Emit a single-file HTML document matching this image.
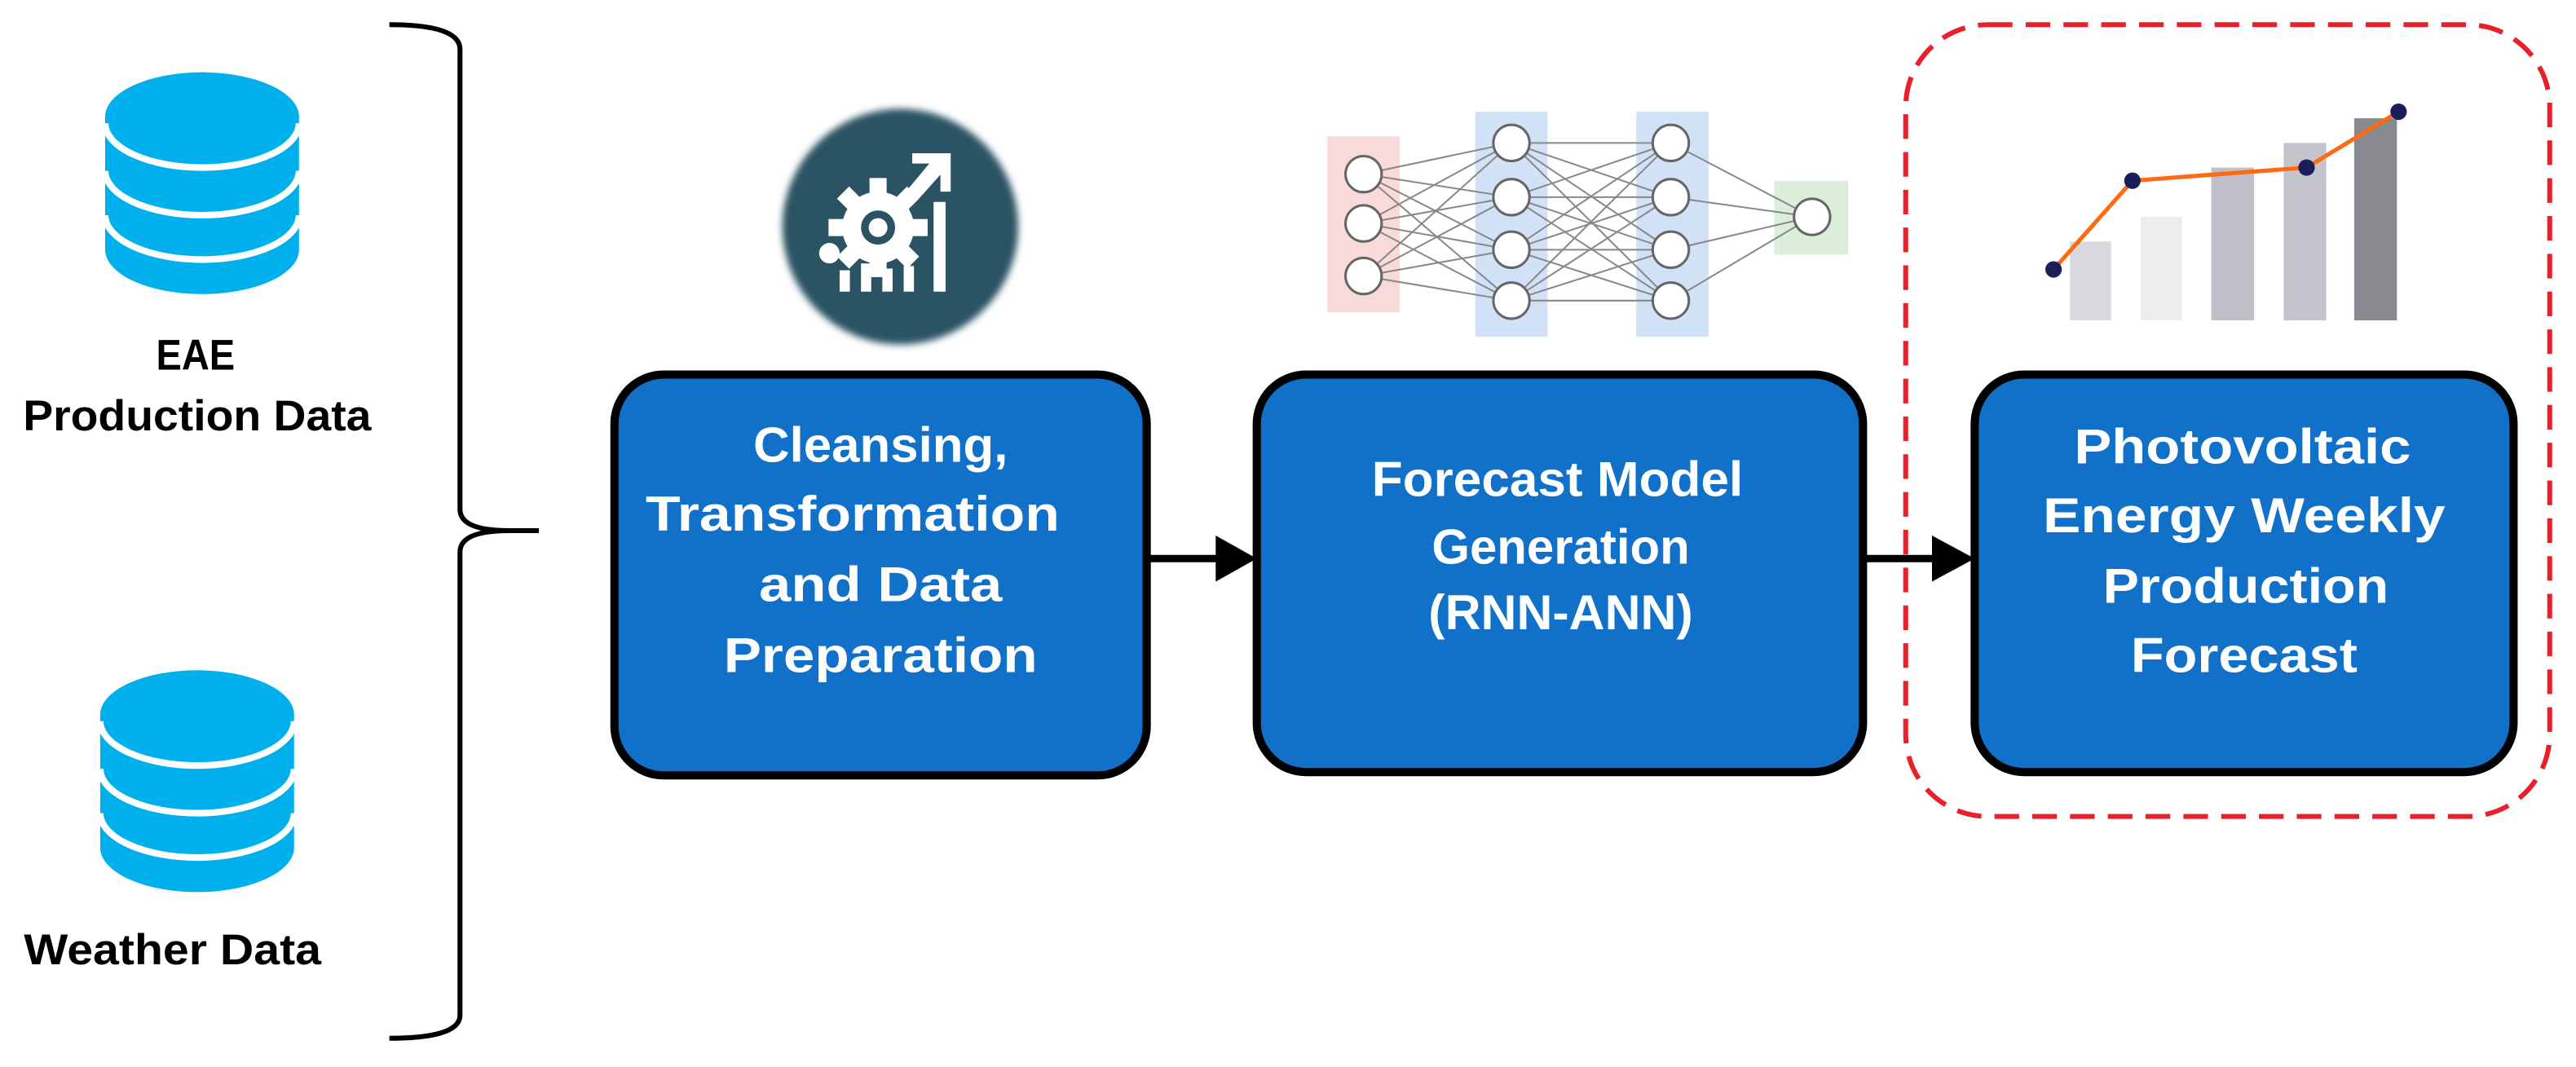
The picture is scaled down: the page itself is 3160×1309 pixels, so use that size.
<!DOCTYPE html>
<html><head><meta charset="utf-8"><style>html,body{margin:0;padding:0;background:#fff}svg{display:block}</style></head>
<body>
<svg width="3160" height="1309" viewBox="0 0 1568 649.5" preserveAspectRatio="none" xmlns="http://www.w3.org/2000/svg" font-family="Liberation Sans, sans-serif" font-weight="bold">
<defs>
<filter id="bl"><feGaussianBlur stdDeviation="4"/></filter>
<g id="db">
<path d="M-59,0 L-59,81 A59,27 0 0 0 59,81 L59,0 Z" fill="#00b0ec"/>
<ellipse cx="0" cy="0" rx="59" ry="27" fill="#00b0ec"/>
<path d="M-59,4 A59,27 0 0 0 59,4" fill="none" stroke="#fff" stroke-width="4"/>
<path d="M-59,33 A59,27 0 0 0 59,33" fill="none" stroke="#fff" stroke-width="4"/>
<path d="M-59,60 A59,27 0 0 0 59,60" fill="none" stroke="#fff" stroke-width="4"/>
</g>
</defs>
<use href="#db" x="123" y="71"/>
<use href="#db" x="120" y="435"/>
<g fill="#000" font-size="26" text-anchor="middle">
<text x="119" y="225" textLength="48" lengthAdjust="spacingAndGlyphs">EAE</text>
<text x="120" y="262" textLength="212" lengthAdjust="spacingAndGlyphs">Production Data</text>
<text x="105" y="587" textLength="181" lengthAdjust="spacingAndGlyphs">Weather Data</text>
</g>
<path d="M237,15 Q280,15 280,30 L280,310 Q280,323 310,323 L328,323 M310,323 Q280,323 280,336 L280,618 Q280,632 237,632" fill="none" stroke="#000" stroke-width="3"/>
<g transform="translate(548,138) scale(0.52) translate(-1031,-269)">
<circle cx="1031" cy="269" r="138" fill="#2c5364" filter="url(#bl)"/>
<g fill="#fff">
<path d="M1040,225 l25,-30 -20,0 0,-12 45,0 0,45 -12,0 0,-20 -25,28z"/>
<rect x="1070" y="240" width="14" height="105"/>
<rect x="960" y="320" width="12" height="25"/>
<rect x="985" y="312" width="12" height="33"/>
<rect x="1010" y="318" width="12" height="27"/>
<rect x="1035" y="315" width="12" height="30"/>
<circle cx="1005" cy="270" r="42"/>
<g transform="translate(1005,270)"><rect x="-10" y="-58" width="20" height="116"/><rect x="-58" y="-10" width="116" height="20"/><rect x="-10" y="-58" width="20" height="116" transform="rotate(45)"/><rect x="-10" y="-58" width="20" height="116" transform="rotate(-45)"/></g>
<circle cx="948" cy="300" r="12"/>
</g>
<circle cx="1005" cy="270" r="20" fill="#2c5364"/>
<circle cx="1005" cy="270" r="11" fill="#fff"/>
</g>
<g opacity="0.85">
<rect x="808" y="83" width="44" height="107" fill="#f8d3d3"/>
<rect x="898" y="68" width="44" height="137" fill="#c9dcf5"/>
<rect x="996" y="68" width="44" height="137" fill="#c9dcf5"/>
<rect x="1080" y="110" width="45" height="45" fill="#d3ebd3"/>
</g>
<g stroke="#888" stroke-width="1">
<path d="M830,106L920,87M830,106L920,120M830,106L920,152M830,106L920,183M830,136L920,87M830,136L920,120M830,136L920,152M830,136L920,183M830,168L920,87M830,168L920,120M830,168L920,152M830,168L920,183"/>
<path d="M920,87L1017,87M920,87L1017,120M920,87L1017,152M920,87L1017,183M920,120L1017,87M920,120L1017,120M920,120L1017,152M920,120L1017,183M920,152L1017,87M920,152L1017,120M920,152L1017,152M920,152L1017,183M920,183L1017,87M920,183L1017,120M920,183L1017,152M920,183L1017,183"/>
<path d="M1017,87L1103,132M1017,120L1103,132M1017,152L1103,132M1017,183L1103,132"/>
</g>
<g fill="#fff" stroke="#666" stroke-width="1.5">
<circle cx="830" cy="106" r="11"/><circle cx="830" cy="136" r="11"/><circle cx="830" cy="168" r="11"/>
<circle cx="920" cy="87" r="11"/><circle cx="920" cy="120" r="11"/><circle cx="920" cy="152" r="11"/><circle cx="920" cy="183" r="11"/>
<circle cx="1017" cy="87" r="11"/><circle cx="1017" cy="120" r="11"/><circle cx="1017" cy="152" r="11"/><circle cx="1017" cy="183" r="11"/>
<circle cx="1103" cy="132" r="11"/>
</g>
<rect x="1260" y="147" width="25" height="48" fill="#d8d9de"/>
<rect x="1303" y="132" width="25" height="63" fill="#ececee"/>
<rect x="1346" y="102" width="26" height="93" fill="#bfc0c8"/>
<rect x="1390" y="87" width="26" height="108" fill="#c4c5cc"/>
<rect x="1433" y="72" width="26" height="123" fill="#88898e"/>
<polyline points="1250,164 1298,110 1404,102 1460,68" fill="none" stroke="#ff6a10" stroke-width="2.5"/>
<g fill="#1a1f5a"><circle cx="1250" cy="164" r="5"/><circle cx="1298" cy="110" r="5"/><circle cx="1404" cy="102" r="5"/><circle cx="1460" cy="68" r="5"/></g>
<rect x="1160" y="15" width="392" height="482" rx="50" fill="none" stroke="#e8202a" stroke-width="3" stroke-dasharray="15,8"/>
<g fill="#1170c8" stroke="#000" stroke-width="5">
<rect x="374" y="228" width="324" height="244" rx="30"/>
<rect x="765" y="228" width="369" height="242" rx="30"/>
<rect x="1202" y="228" width="328" height="242" rx="30"/>
</g>
<line x1="698" y1="340" x2="745" y2="340" stroke="#000" stroke-width="4.5"/>
<path d="M740,326 L765,340 L740,354Z" fill="#000"/>
<line x1="1134" y1="340" x2="1180" y2="340" stroke="#000" stroke-width="4.5"/>
<path d="M1176,326 L1202,340 L1176,354Z" fill="#000"/>
<g fill="#fff" font-size="30" text-anchor="middle">
<text x="536" y="281" textLength="155" lengthAdjust="spacingAndGlyphs">Cleansing,</text>
<text x="519" y="323" textLength="252" lengthAdjust="spacingAndGlyphs">Transformation</text>
<text x="536" y="366" textLength="148" lengthAdjust="spacingAndGlyphs">and Data</text>
<text x="536" y="409" textLength="191" lengthAdjust="spacingAndGlyphs">Preparation</text>
<text x="948" y="302" textLength="226" lengthAdjust="spacingAndGlyphs">Forecast Model</text>
<text x="950" y="343" textLength="157" lengthAdjust="spacingAndGlyphs">Generation</text>
<text x="950" y="383" textLength="161" lengthAdjust="spacingAndGlyphs">(RNN-ANN)</text>
<text x="1365" y="282" textLength="205" lengthAdjust="spacingAndGlyphs">Photovoltaic</text>
<text x="1366" y="324" textLength="245" lengthAdjust="spacingAndGlyphs">Energy Weekly</text>
<text x="1367" y="367" textLength="174" lengthAdjust="spacingAndGlyphs">Production</text>
<text x="1366" y="409" textLength="138" lengthAdjust="spacingAndGlyphs">Forecast</text>
</g>
</svg>
</body></html>
